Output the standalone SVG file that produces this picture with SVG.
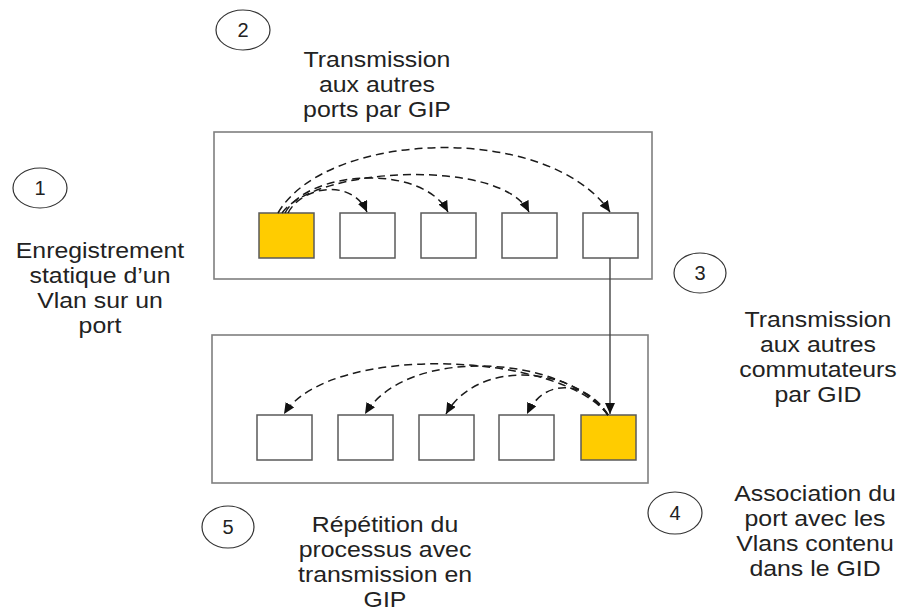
<svg xmlns="http://www.w3.org/2000/svg" width="903" height="610" viewBox="0 0 903 610">
  <style>
    .switch { fill: #ffffff; stroke: #7f7f7f; stroke-width: 1.6; }
    .port { fill: #ffffff; stroke: #5a5a5a; stroke-width: 1.5; }
    .port.active { fill: #ffcc00; }
    .step { fill: #ffffff; stroke: #333333; stroke-width: 1.2; }
    .num { font-family: "Liberation Sans", Arial, sans-serif; font-size: 20px; fill: #222222; text-anchor: middle; }
    .label { font-family: "Liberation Sans", Arial, sans-serif; font-size: 22px; fill: #222222; text-anchor: middle; }
    .flow { fill: none; stroke: #1a1a1a; stroke-width: 1.5; stroke-dasharray: 8 5; marker-end: url(#head); }
    .link { fill: none; stroke: #444444; stroke-width: 1.4; marker-end: url(#head); }
  </style>
  <defs>
    <marker id="head" markerUnits="userSpaceOnUse" markerWidth="12" markerHeight="10" refX="11" refY="5" orient="auto">
      <path d="M0,0 L11,5 L0,10 z" fill="#111111"/>
    </marker>
  </defs>

  <rect width="903" height="610" fill="#ffffff"/>

  <!-- upper switch -->
  <g id="switch-top">
    <rect class="switch" x="214" y="132" width="438" height="147"/>
    <rect id="top-p1" class="port active" x="259" y="213" width="55" height="45"/>
    <rect id="top-p2" class="port" x="340" y="213" width="55" height="45"/>
    <rect id="top-p3" class="port" x="421" y="213" width="55" height="45"/>
    <rect id="top-p4" class="port" x="502" y="213" width="55" height="45"/>
    <rect id="top-p5" class="port" x="583" y="213" width="55" height="45"/>
  </g>

  <!-- lower switch -->
  <g id="switch-bottom">
    <rect class="switch" x="212" y="335" width="436" height="148"/>
    <rect id="bot-p1" class="port" x="257" y="415" width="55" height="45"/>
    <rect id="bot-p2" class="port" x="338" y="415" width="55" height="45"/>
    <rect id="bot-p3" class="port" x="419" y="415" width="55" height="45"/>
    <rect id="bot-p4" class="port" x="499" y="415" width="55" height="45"/>
    <rect id="bot-p5" class="port active" x="581" y="415" width="55" height="45"/>
  </g>

  <!-- propagation arrows -->
  <g id="connectors">
    <path class="flow" d="M288,213 C302,186 352,178 367,212"/>
    <path class="flow" d="M285,213 C308,170 422,163 448,212"/>
    <path class="flow" d="M282,213 C316,166 502,158 529,212"/>
    <path class="flow" d="M278,213 C326,130 548,122 610,212"/>
    <path class="link" d="M610,258 L610,414"/>
    <path class="flow" d="M608,415 C560,352 330,342 284,414"/>
    <path class="flow" d="M608,415 C566,356 408,344 365,414"/>
    <path class="flow" d="M608,415 C574,366 478,358 446,414"/>
    <path class="flow" d="M608,415 C590,384 546,374 527,414"/>
  </g>

  <!-- step 1 -->
  <g id="step-1">
    <ellipse class="step" cx="40" cy="188" rx="27" ry="20"/>
    <text class="num" x="40" y="195">1</text>
    <text class="label" transform="translate(100,0) scale(1.13,1)"><tspan x="0" y="258">Enregistrement</tspan><tspan x="0" y="283">statique d’un</tspan><tspan x="0" y="308">Vlan sur un</tspan><tspan x="0" y="333">port</tspan></text>
  </g>

  <!-- step 2 -->
  <g id="step-2">
    <ellipse class="step" cx="243" cy="30" rx="27" ry="20"/>
    <text class="num" x="243" y="37">2</text>
    <text class="label" transform="translate(377,0) scale(1.13,1)"><tspan x="0" y="67">Transmission</tspan><tspan x="0" y="92">aux autres</tspan><tspan x="0" y="117">ports par GIP</tspan></text>
  </g>

  <!-- step 3 -->
  <g id="step-3">
    <ellipse class="step" cx="700" cy="273" rx="26" ry="20"/>
    <text class="num" x="700" y="280">3</text>
    <text class="label" transform="translate(818,0) scale(1.13,1)"><tspan x="0" y="327">Transmission</tspan><tspan x="0" y="352">aux autres</tspan><tspan x="0" y="377">commutateurs</tspan><tspan x="0" y="402">par GID</tspan></text>
  </g>

  <!-- step 4 -->
  <g id="step-4">
    <ellipse class="step" cx="675" cy="513" rx="27" ry="21"/>
    <text class="num" x="675" y="520">4</text>
    <text class="label" transform="translate(815,0) scale(1.13,1)"><tspan x="0" y="501">Association du</tspan><tspan x="0" y="526">port avec les</tspan><tspan x="0" y="551">Vlans contenu</tspan><tspan x="0" y="576">dans le GID</tspan></text>
  </g>

  <!-- step 5 -->
  <g id="step-5">
    <ellipse class="step" cx="228" cy="527" rx="26" ry="21"/>
    <text class="num" x="228" y="534">5</text>
    <text class="label" transform="translate(385,0) scale(1.13,1)"><tspan x="0" y="532">Répétition du</tspan><tspan x="0" y="557">processus avec</tspan><tspan x="0" y="582">transmission en</tspan><tspan x="0" y="607">GIP</tspan></text>
  </g>
</svg>
